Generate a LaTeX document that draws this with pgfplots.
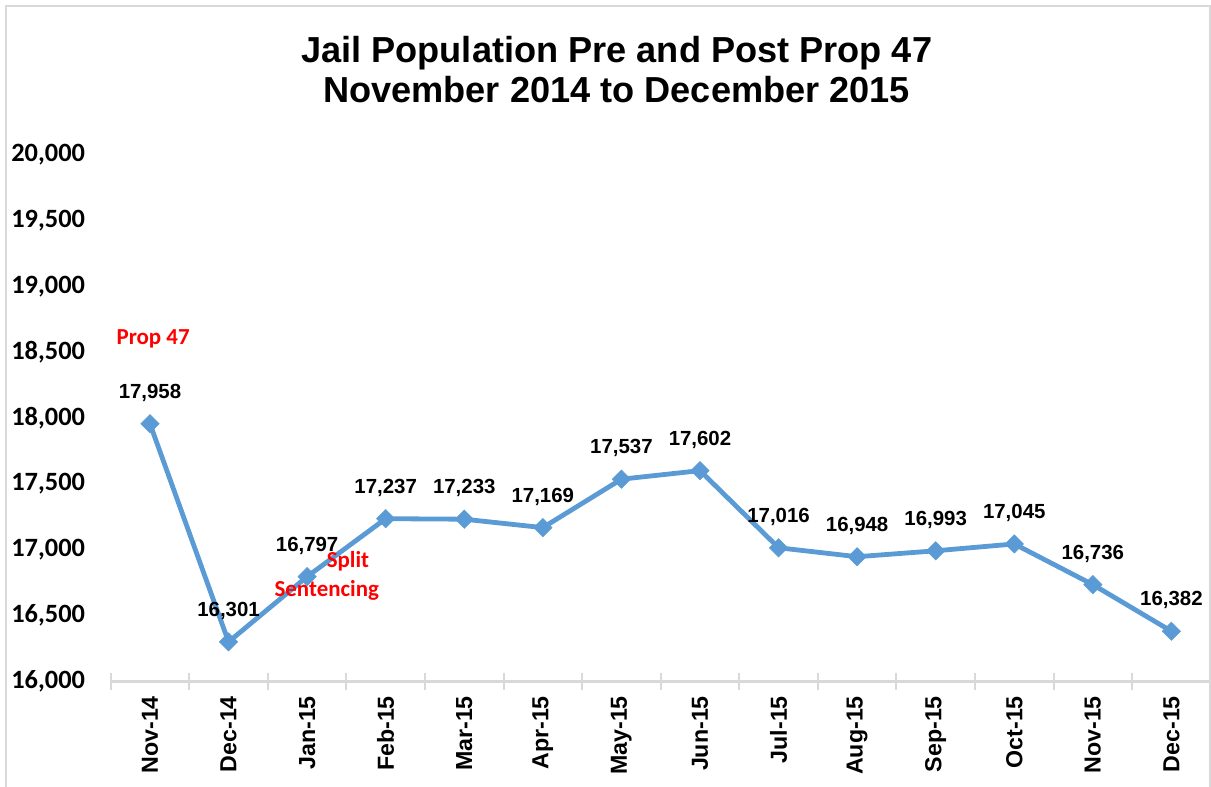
\documentclass[border=0pt]{standalone}
\usepackage{pgfplots}
\pgfplotsset{compat=1.18}
\usepackage{fontspec}
\setmainfont{Liberation Sans}
\newfontfamily\calibri{Carlito}
\definecolor{linecol}{HTML}{5B9BD5}
\definecolor{axgray}{HTML}{D9D9D9}
\begin{document}
\begin{tikzpicture}
\path[use as bounding box] (0,0) rectangle (1211bp,787bp);
\draw[axgray, line width=2bp] (6bp,-10bp) rectangle (1210bp,781bp);
\node[font=\fontsize{36.3}{40}\selectfont\bfseries, anchor=base] at (616.7bp,724bp) {Jail Population Pre and Post Prop 47};
\node[font=\fontsize{36.3}{40}\selectfont\bfseries, anchor=base] at (616.7bp,684bp) {November 2014 to December 2015};
\begin{axis}[
  at={(110.7bp,105.5bp)}, anchor=south west,
  scale only axis, width=1100bp, height=526.5bp,
  xmin=-0.5, xmax=13.5, ymin=16000, ymax=20000,
  axis lines*=left,
  x axis line style={axgray, line width=2.5bp},
  y axis line style={draw=none},
  xtick={0,...,13},
  xticklabels={Nov-14,Dec-14,Jan-15,Feb-15,Mar-15,Apr-15,May-15,Jun-15,Jul-15,Aug-15,Sep-15,Oct-15,Nov-15,Dec-15},
  x tick label style={rotate=90, anchor=east, xshift=-9bp, font=\fontsize{23.3}{25}\selectfont\bfseries},
  major x tick style={draw=none},
  minor xtick={-0.5,0.5,...,13.5},
  minor x tick style={axgray, line width=2bp},
  minor tick length=16bp,
  tick align=center,
  ytick={16000,16500,...,20000},
  ytick style={draw=none},
  scaled y ticks=false,
  y tick label style={xshift=-20bp, font=\fontsize{26.5}{28}\selectfont\calibri\bfseries},
  /pgf/number format/assume math mode=true,
  /pgf/number format/1000 sep={,},
  clip=false,
]
\addplot[linecol, line width=4.8bp, mark=square*, mark size=6.5bp,
  mark options={rotate=45, fill=linecol, draw=linecol, line width=0.5bp},
  nodes near coords,
  every node near coord/.append style={font=\fontsize{20.5}{22}\selectfont\bfseries, anchor=center, yshift=31bp, text=black}]
coordinates {
(0,17958) (1,16301) (2,16797) (3,17237) (4,17233) (5,17169) (6,17537)
(7,17602) (8,17016) (9,16948) (10,16993) (11,17045) (12,16736) (13,16382)
};
\node[text=red, font=\fontsize{23}{24}\selectfont\calibri\bfseries] at (axis cs:0.04,18602) {Prop 47};
\node[text=red, font=\fontsize{23}{24}\selectfont\calibri\bfseries] at (axis cs:2.52,16915) {Split};
\node[text=red, font=\fontsize{23}{24}\selectfont\calibri\bfseries] at (axis cs:2.25,16695) {Sentencing};
\end{axis}
\end{tikzpicture}
\end{document}
